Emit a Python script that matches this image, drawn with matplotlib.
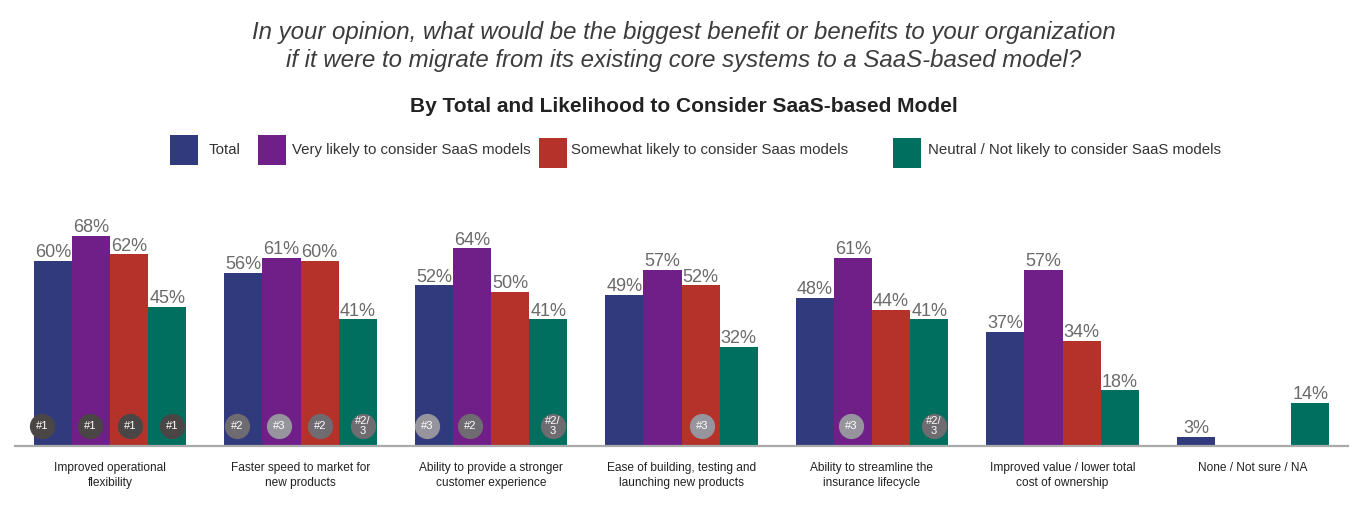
import numpy as np
import matplotlib
matplotlib.use('Agg')
import matplotlib.pyplot as plt
from matplotlib.patches import Rectangle

plt.rcParams['font.family'] = ['Liberation Sans', 'DejaVu Sans']

# Chart data
categories = ["Improved operational\nflexibility",
              "Faster speed to market for\nnew products",
              "Ability to provide a stronger\ncustomer experience",
              "Ease of building, testing and\nlaunching new products",
              "Ability to streamline the\ninsurance lifecycle",
              "Improved value / lower total\ncost of ownership",
              "None / Not sure / NA"]
series_names = ["Total", "Very likely to consider SaaS models",
                "Somewhat likely to consider Saas models",
                "Neutral / Not likely to consider SaaS models"]
total = [60, 56, 52, 49, 48, 37, 3]
very_likely = [68, 61, 64, 57, 61, 57, None]
somewhat_likely = [62, 60, 50, 52, 44, 34, None]
neutral = [45, 41, 41, 32, 41, 18, 14]

# Rank badges: pixel x, label
badge_px = [42, 90, 130, 172, 237, 279, 320, 363, 427, 470, 553, 702, 851, 934]
badge_labels = ["#1", "#1", "#1", "#1", "#2", "#3", "#2", "#2/\n3",
                "#3", "#2", "#2/\n3", "#3", "#3", "#2/\n3"]

colors = ['#313a7c', '#6f1f87', '#b5322a', '#006f5f']
badge_colors = {"#1": '#4a4646', "#2": '#6e6c70', "#3": '#96949c', "#2/\n3": '#6e6c70'}

W, H = 1366, 516
fig = plt.figure(figsize=(W / 100, H / 100), dpi=100, facecolor='white')

# axes placed so that the baseline sits at y=446 and the bars keep their scale
left, right, base, top = 15, 1348, 446, 190
ax = fig.add_axes([left / W, 1 - base / H, (right - left) / W, (base - top) / H])
ax.set_xlim((left - 110) / 190.5, (right - 110) / 190.5)
ax.set_ylim(0, (base - top) / 3.09)

x = np.arange(len(categories))
width = 0.2
all_series = [total, very_likely, somewhat_likely, neutral]
for i, values in enumerate(all_series):
    for j, v in enumerate(values):
        if v is None:
            continue
        xpos = x[j] + (i - 1.5) * width
        ax.bar(xpos, v, width=width, color=colors[i], linewidth=0)
        ax.text(xpos, v - 0.1, f"{v}%", ha='center', va='bottom', fontsize=13, color='#6a6a6a')

for spine in ['top', 'left', 'right']:
    ax.spines[spine].set_visible(False)
ax.spines['bottom'].set_color('#aaaaaa')
ax.spines['bottom'].set_linewidth(1.6)
ax.set_yticks([])
ax.set_xticks(x)
ax.set_xticklabels(categories, fontsize=8.6, color='#222222', linespacing=1.3)
ax.tick_params(axis='x', length=0, pad=11.5)

# rank badges
for px, label in zip(badge_px, badge_labels):
    bx = (px - 110) / 190.5
    ax.scatter(bx, 6.5, s=330, color=badge_colors[label], zorder=3, linewidths=0, clip_on=False)
    ax.text(bx, 6.5, label, ha='center', va='center', fontsize=8, color='white',
            zorder=4, linespacing=1.1)

# titles
fig.text(684 / W, 1 - 32 / H, "In your opinion, what would be the biggest benefit or benefits to your organization",
         ha='center', va='center', fontsize=17.25, style='italic', color='#3c3c3c')
fig.text(684 / W, 1 - 61 / H, "if it were to migrate from its existing core systems to a SaaS-based model?",
         ha='center', va='center', fontsize=17.25, style='italic', color='#3c3c3c')
fig.text(684 / W, 1 - 106 / H, "By Total and Likelihood to Consider SaaS-based Model",
         ha='center', va='center', fontsize=15, fontweight='bold', color='#222222')

# legend drawn by hand because the swatches are unevenly placed
swatch_x = [170, 258, 539, 893]
swatch_y = [135, 135, 138, 138]
label_x = [209, 292, 571, 928]
for i, name in enumerate(series_names):
    fig.add_artist(Rectangle((swatch_x[i] / W, 1 - (swatch_y[i] + 30) / H), 28 / W, 30 / H,
                             transform=fig.transFigure, color=colors[i], linewidth=0))
    fig.text(label_x[i] / W, 1 - 150 / H, name, ha='left', va='center', fontsize=10.85, color='#333333')

fig.savefig('out.png', dpi=100)
